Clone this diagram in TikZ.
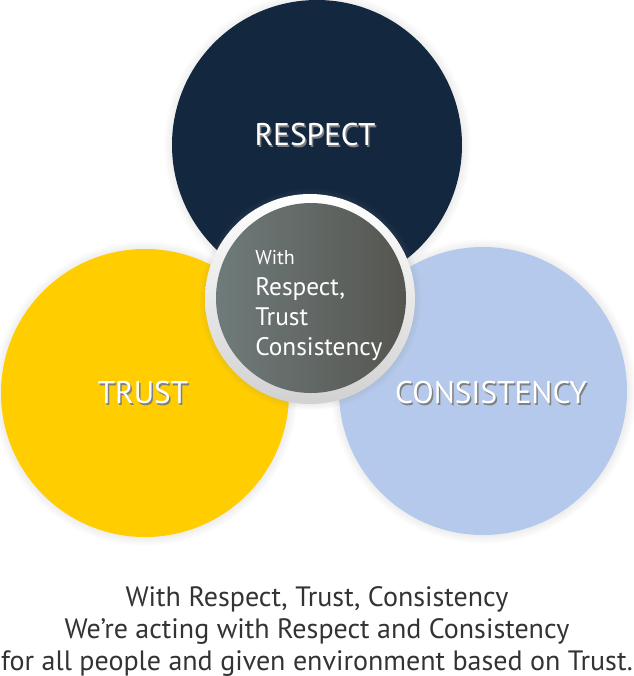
\documentclass[tikz,border=0pt]{standalone}
\usepackage{fontspec}
\setmainfont{PT Sans}
\usetikzlibrary{shadows}

\definecolor{respectnavy}{HTML}{13273F}
\definecolor{trustyellow}{HTML}{FFCD00}
\definecolor{consblue}{HTML}{B4C9EB}
\definecolor{hubleft}{HTML}{6F7B7B}
\definecolor{hubright}{HTML}{55554F}
\definecolor{bodytext}{HTML}{333333}

\tikzset{
  bigdisc/.style={circle, inner sep=0pt, minimum size=#1*1.5pt,
    circular drop shadow={shadow scale=1.06, shadow xshift=0pt, shadow yshift=0pt, opacity=.35}},
  biglabel/.style={text=white, font=\fontsize{23.5}{27}\selectfont},
  labelshade/.style={text=black!50, font=\fontsize{23.5}{27}\selectfont},
  hubtext/.style={text=white, anchor=base west, inner sep=0pt, font=\fontsize{19}{22}\selectfont},
  captext/.style={text=bodytext, anchor=base, inner sep=0pt, font=\fontsize{21}{25}\selectfont},
}

\begin{document}
\begin{tikzpicture}[x=0.75pt, y=-0.75pt]
\useasboundingbox (0,0) rectangle (634,676);
% three outer circles
\foreach \cx/\cy/\r/\col/\name in {317/145/145/respectnavy/respect, 145/393/144/trustyellow/trust, 483/391/144/consblue/consistency}
  \node[bigdisc=\r, fill=\col] (\name) at (\cx,\cy) {};
% labels, white with a grey shadow
\foreach \name/\lab/\dx/\dy in {respect/RESPECT/-2/-10, trust/TRUST/-2/0, consistency/CONSISTENCY/8/2}{
  \node[labelshade] (\name shade) at ([shift={(\dx+1.5,\dy+1.5)}]\name) {\lab};
  \node[biglabel] (\name label) at ([shift={(\dx,\dy)}]\name) {\lab};
}
% centre hub
\node[bigdisc=105, top color=white, bottom color=black!18] (hubring) at (310,299) {};
\node[circle, inner sep=0pt, minimum size=190*0.75pt, left color=hubleft, right color=hubright] (hub) at (311,298) {};
\node[hubtext, font=\fontsize{15}{18}\selectfont] (hubwith) at (255,264) {With};
\foreach \y/\txt/\nm in {295/{Respect,}/hubrespect, 325/Trust/hubtrust, 355/Consistency/hubcons}
  \node[hubtext] (\nm) at (255,\y) {\txt};
% caption
\foreach \y/\txt/\nm in {606/{With Respect, Trust, Consistency}/capone, 638/{We’re acting with Respect and Consistency}/captwo, 670/{for all people and given environment based on Trust.}/capthree}
  \node[captext] (\nm) at (317,\y) {\txt};
\end{tikzpicture}
\end{document}
